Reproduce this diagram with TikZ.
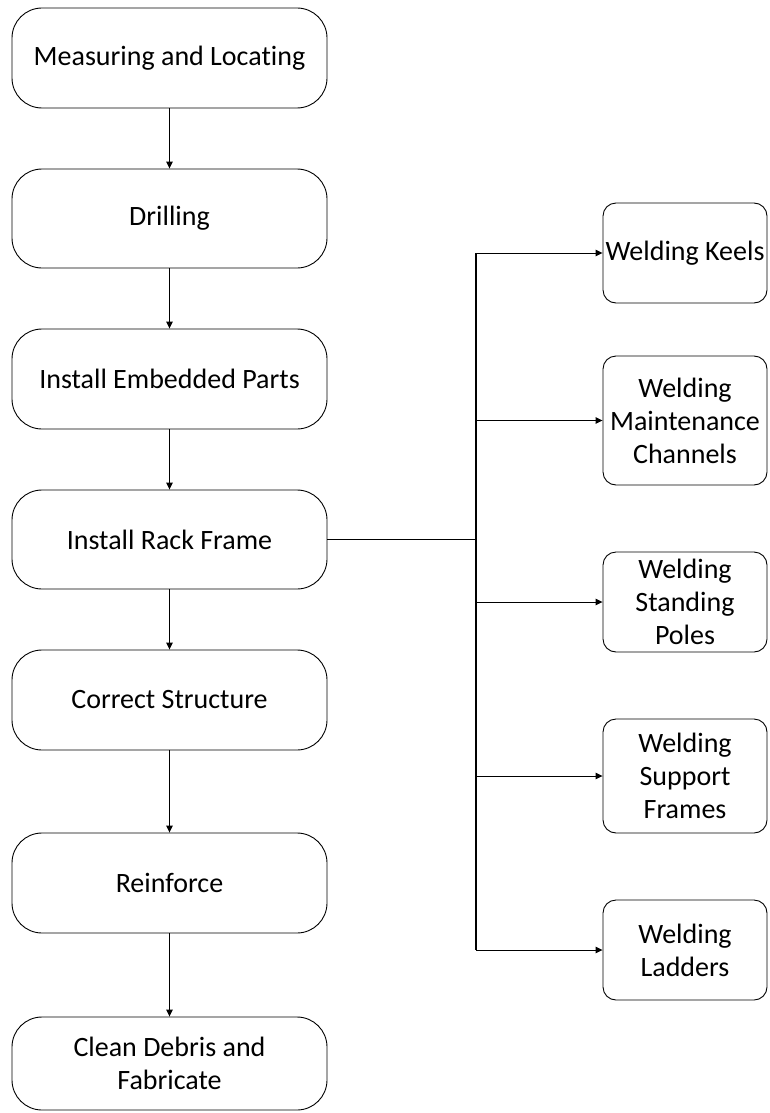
\documentclass[tikz,border=0pt]{standalone}
\usepackage{fontspec}
\setmainfont{Carlito}[Ligatures={NoCommon,NoContextual}]
\usetikzlibrary{arrows.meta}
\tikzset{
  stepbox/.style={draw=black, line width=0.9pt, rounded corners=30pt, minimum width=315pt, align=center, inner sep=0pt,
    font=\fontsize{28}{33}\selectfont},
  subbox/.style={draw=black, line width=0.9pt, rounded corners=13pt, minimum width=164pt, align=center, inner sep=0pt,
    font=\fontsize{28}{33}\selectfont},
  flow/.style={line width=0.9pt, -{Triangle[length=7pt,width=6.5pt]}},
  trunk/.style={line width=1.6pt}
}
\begin{document}
\begin{tikzpicture}[x=1pt,y=-1pt]
\useasboundingbox (0,0) rectangle (769,1113);
% main column
\node[stepbox, minimum height=100pt] (m1) at (169.5,58) {Measuring and Locating};
\node[stepbox, minimum height=99pt] (m2) at (169.5,218.5) {Drilling};
\node[stepbox, minimum height=100pt] (m3) at (169.5,379) {Install Embedded Parts};
\node[stepbox, minimum height=99pt] (m4) at (169.5,539.5) {Install Rack Frame};
\node[stepbox, minimum height=100pt] (m5) at (169.5,700) {Correct Structure};
\node[stepbox, minimum height=100pt] (m6) at (169.5,883) {Reinforce};
\node[stepbox, minimum height=93pt] (m7) at (169.5,1063.5) {Clean Debris and\\Fabricate};
% sub column
\node[subbox, minimum height=100pt] (s1) at (685,253) {Welding Keels};
\node[subbox, minimum height=129pt] (s2) at (685,420.5) {Welding\\Maintenance\\Channels};
\node[subbox, minimum height=100pt] (s3) at (685,602) {Welding\\Standing\\Poles};
\node[subbox, minimum height=114pt] (s4) at (685,776) {Welding\\Support\\Frames};
\node[subbox, minimum height=100pt] (s5) at (685,950) {Welding\\Ladders};
% main flow
\draw[flow] (m1) -- (m2);
\draw[flow] (m2) -- (m3);
\draw[flow] (m3) -- (m4);
\draw[flow] (m4) -- (m5);
\draw[flow] (m5) -- (m6);
\draw[flow] (m6) -- (m7);
% branch
\coordinate (j) at (476,539.5);
\draw[trunk] (m4.east) -- (j);
\draw[line width=1.2pt] (j |- s1.west) -- (j |- s5.west);
\draw[flow] (j |- s1.west) -- (s1.west);
\draw[flow] (j |- s2.west) -- (s2.west);
\draw[flow] (j |- s3.west) -- (s3.west);
\draw[flow] (j |- s4.west) -- (s4.west);
\draw[flow] (j |- s5.west) -- (s5.west);
\end{tikzpicture}
\end{document}
